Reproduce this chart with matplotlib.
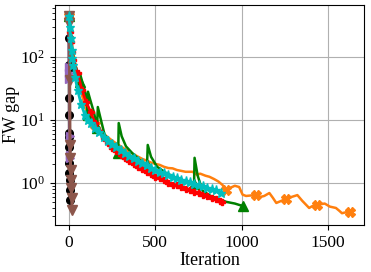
import numpy as np
import matplotlib
matplotlib.use("Agg")
import matplotlib.pyplot as plt

plt.rcParams['font.family'] = ['Liberation Serif', 'DejaVu Serif']
plt.rcParams['mathtext.fontset'] = 'stix'

# ---------------- data ----------------
black_x = [0, 0.3, 0.6, 0.9, 1.2, 1.5, 1.8, 2.1, 2.4, 2.7, 3.0, 3.3, 3.6, 3.9]
black_y = [432, 200, 74, 67, 22, 12, 6.2, 5.4, 3.7, 2.08, 1.44, 1.12, 0.77, 0.54]

purple_x = [0, 1, 2, 3, 4, 5, 6]
purple_y = [450, 70, 55, 45, 5.5, 2.8, 2.5]

brown_x = [0, 2, 4, 6, 8, 10, 12, 14, 16, 18]
brown_y = [450, 346, 43, 4.0, 2.5, 1.6, 1.12, 0.83, 0.58, 0.37]

red_x = [0, 5, 10, 15, 25, 50, 75, 100, 125, 150, 175, 200, 225, 250, 275, 300,
         325, 350, 375, 400, 425, 450, 475, 500, 525, 550, 575, 600, 625, 650,
         675, 700, 725, 750, 775, 800, 825, 850, 875, 888]
red_y = [450, 250, 170, 120, 90, 55, 30, 19, 13.5, 9.0, 6.6, 5.2, 4.3, 3.6, 3.2, 2.75,
         2.5, 2.2, 2.02, 1.8, 1.66, 1.48, 1.40, 1.26, 1.18, 1.10, 1.01, 0.94, 0.91, 0.85,
         0.80, 0.77, 0.72, 0.69, 0.64, 0.61, 0.58, 0.55, 0.52, 0.50]

cyan_x = [0, 5, 10, 15, 20, 25, 35, 50, 70, 92, 110, 125, 150, 175, 200, 225, 250,
          275, 300, 325, 350, 375, 400, 425, 450, 475, 500, 525, 550, 575, 600, 625,
          650, 675, 700, 725, 750, 775, 800, 825, 850, 882]
cyan_y = [450, 300, 200, 130, 95, 75, 48, 30, 18, 12, 10, 9.0, 7.5, 6.4, 5.4, 4.7, 4.2,
          3.7, 3.3, 3.0, 2.7, 2.5, 2.25, 2.05, 1.9, 1.72, 1.6, 1.5, 1.42, 1.32, 1.25, 1.18,
          1.12, 1.07, 1.02, 0.97, 0.92, 0.88, 0.84, 0.80, 0.76, 0.70]

orange_x = [0, 10, 20, 40, 60, 80, 100, 125, 150, 175, 200, 225, 250, 275, 300, 325,
            350, 375, 400, 425, 450, 475, 500, 525, 550, 575, 600, 625, 650, 675, 700,
            715, 740, 760, 790, 813, 840, 865, 888, 910, 940, 960, 985, 1005, 1025,
            1050, 1084, 1110, 1130, 1160, 1180, 1200, 1230, 1257, 1290, 1322, 1350,
            1390, 1410, 1436, 1460, 1480, 1510, 1545, 1565, 1580, 1600, 1626]
orange_y = [450, 250, 140, 65, 38, 22, 14, 10.5, 8.2, 7.0, 6.0, 5.3, 4.7, 4.2, 3.8, 3.4,
            3.1, 2.85, 2.6, 2.4, 2.25, 2.1, 2.0, 1.93, 1.8, 1.72, 1.70, 1.6, 1.55, 1.5, 1.5,
            1.5, 1.35, 1.4, 1.3, 1.25, 1.15, 1.05, 0.93, 0.77, 0.85, 0.90, 0.86, 0.65, 0.62,
            0.63, 0.64, 0.60, 0.62, 0.69, 0.58, 0.48, 0.52, 0.56, 0.60, 0.64, 0.52,
            0.40, 0.43, 0.45, 0.46, 0.47, 0.42, 0.40, 0.36, 0.33, 0.34, 0.35]

green_x = [0, 8, 15, 25, 40, 55, 62, 63, 75, 90, 105, 109, 110, 125, 145, 163, 167,
           185, 205, 230, 260, 285, 288, 305, 330, 370, 410, 452, 456, 475, 510, 560,
           620, 680, 724, 727, 745, 773, 820, 870, 910, 960, 1005]
green_y = [450, 250, 150, 100, 70, 50, 40, 55, 42, 30, 20, 12, 28, 20, 13, 7.5, 16,
           10, 6.0, 4.5, 3.6, 3.0, 8.9, 5.5, 3.8, 2.9, 2.3, 1.95, 4.0, 2.6, 1.8, 1.45,
           1.2, 1.05, 0.95, 2.5, 1.3, 0.75, 0.62, 0.55, 0.50, 0.47, 0.43]

orange_mark_iters = [0, 160, 900, 1084, 1257, 1436, 1626]
green_mark_iters = [0, 62, 109, 163, 285, 452, 724, 1005]


def nearest_indices(xs, targets):
    xs = np.asarray(xs)
    return sorted(set(int(np.argmin(np.abs(xs - t))) for t in targets))


# ---------------- plot ----------------
fig = plt.figure(figsize=(3.71, 2.72), dpi=100)
ax = fig.add_axes([0.148, 0.173, 0.833, 0.809])

ax.plot(black_x, black_y, color='k', marker='o', ms=5.5, lw=2, zorder=2)
ax.plot(purple_x, purple_y, color='tab:purple', marker='>', ms=5.5, lw=2, zorder=2)
ax.plot(orange_x, orange_y, color='tab:orange', marker='X', ms=6.5, lw=1.8,
        markevery=nearest_indices(orange_x, orange_mark_iters), zorder=3)
ax.plot(green_x, green_y, color='g', marker='^', ms=6.5, lw=1.8,
        markevery=nearest_indices(green_x, green_mark_iters), zorder=3)
ax.plot(red_x, red_y, color='r', marker='P', ms=4.5, lw=2, zorder=4)
ax.plot(brown_x, brown_y, color='tab:brown', marker='v', ms=6.5, lw=2.2, zorder=5)
ax.plot(cyan_x, cyan_y, color='c', marker='*', ms=6.5, lw=2, zorder=6)

ax.set_yscale('log')
ax.set_ylim(0.215, 668)
ax.set_xticks([0, 500, 1000, 1500])
ax.grid(True, color='#b0b0b0', lw=0.8)
ax.set_axisbelow(True)
ax.tick_params(labelsize=12.5)
ax.set_xlabel('Iteration', fontsize=13, labelpad=1)
ax.set_ylabel('FW gap', fontsize=13, labelpad=0)

fig.savefig('out.png', dpi=100)
